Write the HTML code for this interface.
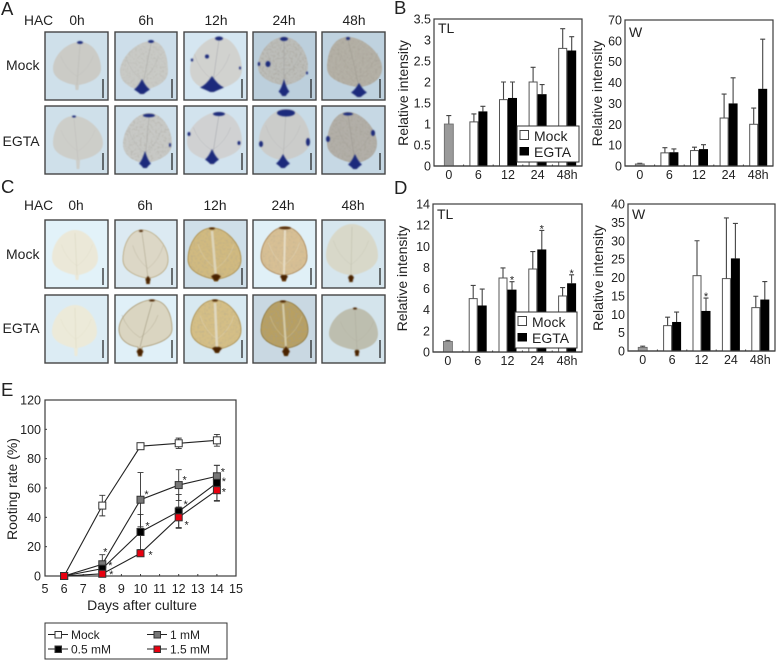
<!DOCTYPE html>
<html lang="en">
<head>
<meta charset="utf-8">
<title>Relative intensity and rooting rate figure</title>
<style>
html,body{margin:0;padding:0;background:#fff;width:777px;height:660px;overflow:hidden}
svg{display:block}
text{font-family:"Liberation Sans",Arial,sans-serif;fill:#222}
</style>
</head>
<body>
<svg id="fig" xmlns="http://www.w3.org/2000/svg" width="777" height="660" viewBox="0 0 777 660">
  <defs>
    <filter id="soft" x="-20%" y="-20%" width="140%" height="140%"><feGaussianBlur stdDeviation="0.6"/></filter>
    <filter id="stainblur" x="-60%" y="-60%" width="220%" height="220%"><feGaussianBlur stdDeviation="0.8"/></filter>
    <filter id="mottle" x="0" y="0" width="100%" height="100%">
      <feTurbulence type="fractalNoise" baseFrequency="0.45" numOctaves="2" seed="4" result="n"/>
      <feColorMatrix in="n" type="matrix" values="0 0 0 0 0.35  0 0 0 0 0.33  0 0 0 0 0.28  0 0 0 2.6 -1.15" result="c"/>
      <feComposite in="c" in2="SourceAlpha" operator="in"/>
    </filter>
  </defs>
  <g id="photos"></g>
  <g id="charts"></g>
  <g font-size="18.5">
    <text x="1" y="15">A</text>
    <text x="394" y="14">B</text>
    <text x="1" y="193">C</text>
    <text x="394" y="194">D</text>
    <text x="1" y="396">E</text>
  </g>
</svg>
<script>
// ---------- chart data ----------
const timeCategories = ['0', '6', '12', '24', '48h'];

const bTLTicks = [0, 0.5, 1, 1.5, 2, 2.5, 3, 3.5];
const bTLBaseline = [1, 1.2];
const bTLMock = [1.05, 1.58, 2.0, 2.8];
const bTLMockTop = [1.24, 2.0, 2.35, 3.27];
const bTLEgta = [1.3, 1.62, 1.71, 2.75];
const bTLEgtaTop = [1.42, 2.0, 1.94, 3.08];
const bTLStars = [];

const bWTicks = [0, 10, 20, 30, 40, 50, 60, 70];
const bWBaseline = [1, 1.3];
const bWMock = [6.3, 7.4, 23, 20];
const bWMockTop = [8.8, 9, 34.5, 27.8];
const bWEgta = [6.6, 8.1, 30, 37];
const bWEgtaTop = [8.2, 10.2, 42.3, 60.8];
const bWStars = [];

const dTLTicks = [0, 2, 4, 6, 8, 10, 12, 14];
const dTLBaseline = [1, 1.1];
const dTLMock = [5.05, 7, 7.85, 5.3];
const dTLMockTop = [6.3, 7.95, 9.5, 6.1];
const dTLEgta = [4.4, 5.9, 9.7, 6.5];
const dTLEgtaTop = [5.95, 6.65, 11.5, 7.3];
const dTLStars = [1, 2, 3];

const dWTicks = [0, 5, 10, 15, 20, 25, 30, 35, 40];
const dWBaseline = [1, 1.3];
const dWMock = [6.9, 20.5, 19.7, 11.8];
const dWMockTop = [9.2, 30, 36.2, 14.9];
const dWEgta = [7.9, 10.9, 25.2, 14];
const dWEgtaTop = [10.6, 14.4, 34.7, 18.9];
const dWStars = [1];

const rootDays = [6, 8, 10, 12, 14];
const rootXTicks = [5, 6, 7, 8, 9, 10, 11, 12, 13, 14, 15];
const rootYTicks = [0, 20, 40, 60, 80, 100, 120];
const rootMock = [0, 48, 88.5, 90.5, 92.5];
const rootMockErr = [0, 7, 1.5, 3.5, 4];
const root1mM = [0, 8, 52, 62, 68];
const root1mMErr = [0, 6.5, 18.5, 10.5, 7.5];
const root05mM = [0, 5, 30, 44, 63.5];
const root05mMErr = [0, 3, 12, 11.5, 12];
const root15mM = [0, 1.5, 15.5, 40, 58.5];
const root15mMErr = [0, 1, 0, 7, 7.5];

// ---------- helpers ----------
const NS = 'http://www.w3.org/2000/svg';
const INK = '#3c3c3c';
function mk(parent, tag, attrs, txt) {
  const el = document.createElementNS(NS, tag);
  for (const k in attrs) el.setAttribute(k, attrs[k]);
  if (txt !== undefined) el.textContent = txt;
  parent.appendChild(el);
  return el;
}

// ---------- bar charts ----------
function barChart(o) {
  const root = document.getElementById('charts');
  const g = mk(root, 'g', {});
  
  
  const w = o.x1 - o.x0;
  const band = w / o.categories.length;
  const yMax = o.ticks[o.ticks.length - 1];
  const sy = v => o.y1 - (v / yMax) * (o.y1 - o.y0);
  const cx = i => o.x0 + band * (i + 0.5);
  const barW = 9;

  const frame = mk(g, 'rect', {x: o.x0, y: o.y0, width: w, height: o.y1 - o.y0, fill: '#fff', stroke: INK, 'stroke-width': 1.2});
  
  

  o.ticks.forEach(t => {
    const lb = mk(g, 'text', {x: o.x0 - 3, y: sy(t) + 4.5, 'text-anchor': 'end', 'font-size': 12.5}, String(t));
    
    
  });
  o.categories.forEach((c, i) => {
    const lb = mk(g, 'text', {x: cx(i), y: o.y1 + 13, 'text-anchor': 'middle', 'font-size': 12.5}, c);
    
    
    if (i > 0) {
      const tk = mk(g, 'line', {x1: o.x0 + band * i, x2: o.x0 + band * i, y1: o.y1, y2: o.y1 - 1.5, stroke: INK, 'stroke-width': 1});
      
      
    }
  });

  const yt = mk(g, 'text', {transform: 'translate(' + o.ylx + ',' + ((o.y0 + o.y1) / 2 + 0.5) + ') rotate(-90)', 'text-anchor': 'middle', 'font-size': 14}, 'Relative intensity');
  
  
  const tl = mk(g, 'text', {x: o.tx, y: o.ty, 'font-size': 14}, o.title);
  
  

  function err(x, from, to) {
    const e = mk(g, 'path', {d: 'M' + x + ' ' + sy(from) + 'V' + sy(to) + 'M' + (x - 2.5) + ' ' + sy(to) + 'H' + (x + 2.5), fill: 'none', stroke: '#444', 'stroke-width': 1.1});
    
    
  }
  err(cx(0), o.baseline[0], o.baseline[1]);
  const b0 = mk(g, 'rect', {x: cx(0) - barW / 2, y: sy(o.baseline[0]), width: barW, height: o.y1 - sy(o.baseline[0]), fill: '#9a9a9a', stroke: '#666', 'stroke-width': 0.8});
  
  

  o.mock.forEach((v, i) => {
    const c = cx(i + 1);
    err(c - barW / 2, v, o.mockTop[i]);
    const b = mk(g, 'rect', {x: c - barW + 0.5, y: sy(v), width: barW - 1, height: o.y1 - sy(v), fill: '#fff', stroke: '#555', 'stroke-width': 1});
    
    
  });
  o.egta.forEach((v, i) => {
    const c = cx(i + 1);
    err(c + barW / 2, v, o.egtaTop[i]);
    const b = mk(g, 'rect', {x: c, y: sy(v), width: barW, height: o.y1 - sy(v), fill: '#000'});
    
    
  });
  o.stars.forEach(i => {
    const c = cx(i + 1);
    const s = mk(g, 'text', {x: c + barW / 2, y: sy(o.egtaTop[i]) + 2, 'text-anchor': 'middle', 'font-size': 11}, '*');
    
    
  });
  const base = mk(g, 'line', {x1: o.x0, x2: o.x1, y1: o.y1, y2: o.y1, stroke: INK, 'stroke-width': 1.2});
  
  

  if (o.legend) {
    const lg = mk(g, 'g', {transform: 'translate(' + o.legend[0] + ',' + o.legend[1] + ')'});
    
    
    const lr = mk(lg, 'rect', {x: 0, y: 0, width: 62, height: 36, fill: '#fff', stroke: '#333', 'stroke-width': 1});
    
    
    const s1 = mk(lg, 'rect', {x: 3, y: 4.5, width: 8.5, height: 9, fill: '#fff', stroke: '#444', 'stroke-width': 1});
    
    
    const t1 = mk(lg, 'text', {x: 17, y: 15, 'font-size': 14}, 'Mock');
    
    
    const s2 = mk(lg, 'rect', {x: 2.5, y: 21, width: 9.5, height: 8.5, fill: '#000'});
    
    
    const t2 = mk(lg, 'text', {x: 17, y: 31, 'font-size': 14}, 'EGTA');
    
    
  }
}

barChart({name: 'b-tl', title: 'TL', x0: 434, x1: 582, y0: 19, y1: 166, ylx: 408, tx: 438, ty: 33, categories: timeCategories, ticks: bTLTicks, baseline: bTLBaseline, mock: bTLMock, mockTop: bTLMockTop, egta: bTLEgta, egtaTop: bTLEgtaTop, stars: bTLStars, legend: [517, 126]});
barChart({name: 'b-w', title: 'W', x0: 625, x1: 773, y0: 20, y1: 166, ylx: 602, tx: 629, ty: 37, categories: timeCategories, ticks: bWTicks, baseline: bWBaseline, mock: bWMock, mockTop: bWMockTop, egta: bWEgta, egtaTop: bWEgtaTop, stars: bWStars});
barChart({name: 'd-tl', title: 'TL', x0: 433, x1: 582, y0: 204, y1: 352, ylx: 407, tx: 437, ty: 219, categories: timeCategories, ticks: dTLTicks, baseline: dTLBaseline, mock: dTLMock, mockTop: dTLMockTop, egta: dTLEgta, egtaTop: dTLEgtaTop, stars: dTLStars, legend: [515, 312]});
barChart({name: 'd-w', title: 'W', x0: 628, x1: 775, y0: 204, y1: 351, ylx: 603, tx: 632, ty: 219, categories: timeCategories, ticks: dWTicks, baseline: dWBaseline, mock: dWMock, mockTop: dWMockTop, egta: dWEgta, egtaTop: dWEgtaTop, stars: dWStars});

// ---------- line chart (panel E) ----------
(function () {
  const root = document.getElementById('charts');
  const g = mk(root, 'g', {});
  
  
  const X0 = 45, X1 = 236, Y0 = 400, Y1 = 576;
  const sx = d => X0 + (d - 5) / 10 * (X1 - X0);
  const sy = v => Y1 - v / 120 * (Y1 - Y0);
  const frame = mk(g, 'rect', {x: X0, y: Y0, width: X1 - X0, height: Y1 - Y0, fill: '#fff', stroke: INK, 'stroke-width': 1.2});
  
  
  rootYTicks.forEach(t => {
    const lb = mk(g, 'text', {x: X0 - 4, y: sy(t) + 4.5, 'text-anchor': 'end', 'font-size': 12.5}, String(t));
    
    
    const tk = mk(g, 'line', {x1: X0, x2: X0 + 2, y1: sy(t), y2: sy(t), stroke: INK, 'stroke-width': 1});
    
    
  });
  rootXTicks.forEach(t => {
    const lb = mk(g, 'text', {x: sx(t), y: 593, 'text-anchor': 'middle', 'font-size': 12.5}, String(t));
    
    
    const tk = mk(g, 'line', {x1: sx(t), x2: sx(t), y1: Y1, y2: Y1 - 2, stroke: INK, 'stroke-width': 1});
    
    
  });
  const xt = mk(g, 'text', {x: 142, y: 610, 'text-anchor': 'middle', 'font-size': 14}, 'Days after culture');
  
  
  const yt = mk(g, 'text', {transform: 'translate(17,489) rotate(-90)', 'text-anchor': 'middle', 'font-size': 14}, 'Rooting rate (%)');
  
  

  const series = [
    {id: 'mock', vals: rootMock, errs: rootMockErr, fill: '#fff', star: null},
    {id: '1mm', vals: root1mM, errs: root1mMErr, fill: '#777', star: [null, [3, -15], [6, -8], [6, -8], [6, -7]]},
    {id: '0-5mm', vals: root05mM, errs: root05mMErr, fill: '#000', star: [null, [8, -6], [7, -9], [7, -10], [7, -4]]},
    {id: '1-5mm', vals: root15mM, errs: root15mMErr, fill: '#e8000f', star: [null, [9, -2], [10, -1], [8, 5], [7, -1]]}
  ];
  series.forEach(s => {
    const line = mk(g, 'polyline', {points: rootDays.map((d, i) => sx(d) + ',' + sy(s.vals[i])).join(' '), fill: 'none', stroke: '#222', 'stroke-width': 1.1});
    
    
  });
  series.forEach(s => {
    s.vals.forEach((v, i) => {
      const e = s.errs[i];
      if (!e) return;
      const x = sx(rootDays[i]);
      const p = mk(g, 'path', {d: 'M' + x + ' ' + sy(v + e) + 'V' + sy(v - e) + 'M' + (x - 3) + ' ' + sy(v + e) + 'H' + (x + 3) + 'M' + (x - 3) + ' ' + sy(v - e) + 'H' + (x + 3), fill: 'none', stroke: '#333', 'stroke-width': 0.9});
      
      
    });
  });
  series.forEach(s => {
    s.vals.forEach((v, i) => {
      const x = sx(rootDays[i]), y = sy(v);
      const m = mk(g, 'rect', {x: x - 3.5, y: y - 3.5, width: 7, height: 7, fill: s.fill, stroke: '#333', 'stroke-width': 1});
      
      
      if (s.star && s.star[i]) {
        const st = mk(g, 'text', {x: x + s.star[i][0], y: y + s.star[i][1] + 6.3, 'text-anchor': 'middle', 'font-size': 11}, '*');
        
        
      }
    });
  });

  const lg = mk(g, 'g', {});
  
  
  const lr = mk(lg, 'rect', {x: 45, y: 623, width: 182, height: 36, fill: '#fff', stroke: '#333', 'stroke-width': 1});
  
  
  const entries = [
    ['Mock', 48, 634.5, '#fff', 'mock'],
    ['0.5 mM', 48, 649, '#000', '0-5mm'],
    ['1 mM', 147, 634.5, '#777', '1mm'],
    ['1.5 mM', 147, 649, '#e8000f', '1-5mm']
  ];
  entries.forEach(en => {
    const ln = mk(lg, 'line', {x1: en[1], x2: en[1] + 20, y1: en[2], y2: en[2], stroke: '#222', 'stroke-width': 1});
    
    
    const mr = mk(lg, 'rect', {x: en[1] + 7, y: en[2] - 3, width: 6.5, height: 6.5, fill: en[3], stroke: '#333', 'stroke-width': 1});
    
    
    const tx = mk(lg, 'text', {x: en[1] + 23, y: en[2] + 4.5, 'font-size': 12}, en[0]);
    
    
  });
})();

// ---------- leaf photo panels ----------
const BLUE = '#1b2a7c', BRN = '#4a2206';
const tileXs = [[45, 108], [115, 177], [184, 247], [253, 316], [322, 385]];
const leaves = [
  // panel A row 1
  {p:'a',r:0,c:0,y:[32,100],bar:[79,98],bg:'#cfe0ea',leaf:'#cbcbc6',L:53,R:101,T:42,B:85,P:90,C:80,bx:77,mot:0,veinC:'#bdbdb8',st:[[80,42.5,3,1.5]]},
  {p:'a',r:0,c:1,y:[32,100],bar:[79,98],bg:'#cddeea',leaf:'#c9cac6',L:120,R:168,T:41,B:90,P:94,C:151,bx:142,mot:.25,veinC:'#b2b2ae',fan:[142,79,94,8],st:[[151,41.5,3,1.5]]},
  {p:'a',r:0,c:2,y:[32,100],bar:[79,98],bg:'#d5e6f1',leaf:'#d1d2cf',L:190,R:242,T:37,B:90,P:92,C:219,bx:212,mot:0,veinC:'#b0b2b6',fan:[212,76,92,12],st:[[219,38.5,4,2],[207,56.5,2,2],[192,60,1.2,1.5],[240,68,1,1.5]]},
  {p:'a',r:0,c:3,y:[32,100],bar:[79,98],bg:'#bccfdc',leaf:'#bcbdb9',L:258,R:308,T:37,B:85,P:96,C:284,bx:284,mot:.5,veinC:'#a8a8a6',fan:[284,79,96,5.5],st:[[284,39,4,2],[268,64,2.5,3],[259,64,1.2,2],[307,73,1,1.5]]},
  {p:'a',r:0,c:4,y:[32,100],bar:[79,98],bg:'#bfd2df',leaf:'#b4b0a6',L:327,R:382,T:37,B:87,P:97,C:348,bx:359,mot:.5,veinC:'#a4a196',fan:[359,83,97,8],st:[[348,38.5,2,1.5]]},
  // panel A row 2
  {p:'a',r:1,c:0,y:[106,174],bar:[153,170],bg:'#cfe0ea',leaf:'#cdcec9',L:53,R:103,T:116,B:160,P:169,C:74,bx:78,mot:0,veinC:'#c1c1bd',st:[[74,116.5,2,1]]},
  {p:'a',r:1,c:1,y:[106,174],bar:[153,170],bg:'#d0e1ec',leaf:'#c8c9c6',L:123,R:172,T:113,B:163,P:168,C:149,bx:145,mot:.35,veinC:'#b0b0ad',fan:[145,151,168,6],st:[[149,115.5,6,1.8],[170,145,1,2]]},
  {p:'a',r:1,c:2,y:[106,174],bar:[153,170],bg:'#d2e3ee',leaf:'#d0d1d2',L:187,R:242,T:112,B:160,P:165,C:219,bx:212,mot:0,veinC:'#adafb5',fan:[212,149,164,7],st:[[219,114,6,2],[189,134,1.5,2],[239,143,1.5,2]]},
  {p:'a',r:1,c:3,y:[106,174],bar:[153,170],bg:'#c8dbe7',leaf:'#cbccca',L:259,R:310,T:109,B:160,P:168,C:286,bx:283,mot:0,veinC:'#b7b7b7',fan:[283,154,168,7],st:[[286,113,9,3.5],[261,144,2,3],[308,142,2,4]]},
  {p:'a',r:1,c:4,y:[106,174],bar:[153,170],bg:'#c6d8e4',leaf:'#b2afa8',L:327,R:377,T:112,B:163,P:169,C:348,bx:355,mot:.5,veinC:'#a09c95',fan:[355,154,169,7],st:[[348,114,5,1.5],[328,139,2,3],[373,133,2,3]]},
  // panel C row 1
  {p:'c',r:0,c:0,y:[220,288],bar:[268,285],bg:'#e2f2f9',leaf:'#ebe8d8',L:52,R:98,T:230,B:275,P:280,C:75,bx:77,mot:0,veinC:'#dcd8c4',st:[]},
  {p:'c',r:0,c:1,y:[220,288],bar:[268,285],bg:'#dceaf2',leaf:'#dcd7c6',L:123,R:168,T:230,B:278,P:283,C:142,bx:148,mot:0,veinC:'#b5ae96',fan:[148,276,284,2.5],st:[[141,231,2,1]],rim:'#b8a678'},
  {p:'c',r:0,c:2,y:[220,288],bar:[268,285],bg:'#cfdfe9',leaf:'#d1ba80',L:188,R:241,T:228,B:279,P:281,C:212,bx:216,mot:.3,veinC:'#ddd4b8',rib:2.5,fan:[216,274,281,5],st:[[212,228.5,3,1]],rim:'#a8883e'},
  {p:'c',r:0,c:3,y:[220,288],bar:[268,285],bg:'#e0f0f7',leaf:'#d8c094',L:261,R:307,T:227,B:275,P:281,C:285,bx:284,mot:.25,veinC:'#e6dcc4',rib:2,fan:[284,275,281,4],st:[[285,228,6,1.2]],rim:'#a87c44'},
  {p:'c',r:0,c:4,y:[220,288],bar:[268,285],bg:'#d6e6ee',leaf:'#d8d8c9',L:326,R:378,T:224,B:275,P:282,C:352,bx:351,mot:0,veinC:'#c3c3b1',fan:[351,275,282,3],st:[]},
  // panel C row 2
  {p:'c',r:1,c:0,y:[295,363],bar:[340,358],bg:'#dcecf4',leaf:'#ecead9',L:52,R:97,T:305,B:348,P:356,C:75,bx:76,mot:0,veinC:'#dfdcc6',st:[]},
  {p:'c',r:1,c:1,y:[295,363],bar:[340,358],bg:'#e0f0f8',leaf:'#dad5c1',L:119,R:172,T:300,B:347,P:356,C:152,bx:140,mot:0,veinC:'#a8a086',fan:[140,348,356,3.5],st:[[152,300.5,3,1]],rim:'#a89468'},
  {p:'c',r:1,c:2,y:[295,363],bar:[340,358],bg:'#d8e9f1',leaf:'#d5bf86',L:191,R:241,T:300,B:349,P:352,C:215,bx:217,mot:.3,veinC:'#e0d8bf',rib:2.5,fan:[217,347,353,5],st:[[215,300.5,3,1]],rim:'#a8883e'},
  {p:'c',r:1,c:3,y:[295,363],bar:[340,358],bg:'#c9d8e2',leaf:'#b8a062',L:261,R:308,T:301,B:348,P:355,C:283,bx:286,mot:.5,veinC:'#d4cba8',rib:2,fan:[286,346,356,4],st:[[283,301.5,3,1]],rim:'#8a7030'},
  {p:'c',r:1,c:4,y:[295,363],bar:[340,358],bg:'#d4e4ec',leaf:'#bdbeaf',L:329,R:378,T:308,B:350,P:355,C:355,bx:357,mot:0,veinC:'#b0b0a1',fan:[357,350,356,2.5],st:[[355,308.5,2,1]]}
];
const stainColor = {a: BLUE, c: BRN};
const rowLabels = ['Mock', 'EGTA'];
const timeLabels = ['0h', '6h', '12h', '24h', '48h'];
const labelCentersA = [77, 146, 216, 284, 354];
const labelCentersC = [76, 145, 215, 283, 353];

(function () {
  const root = document.getElementById('photos');
  leaves.forEach(t => {
    const x0 = tileXs[t.c][0], x1 = tileXs[t.c][1];
    const g = mk(root, 'g', {});
    
    
    const bg = mk(g, 'rect', {x: x0, y: t.y[0], width: x1 - x0, height: t.y[1] - t.y[0], fill: t.bg, stroke: '#444', 'stroke-width': 1.4});
    
    
    const w = (t.R - t.L) / 2, h = t.B - t.T, C = t.C, bx = t.bx;
    const pw = 2;
    const my = t.T + h * .62;
    const d = 'M' + C + ' ' + t.T +
      'C' + (C + w * .55) + ' ' + t.T + ' ' + t.R + ' ' + (t.T + h * .32) + ' ' + t.R + ' ' + my +
      'C' + t.R + ' ' + (t.T + h * .88) + ' ' + (bx + w * .35) + ' ' + (t.B - 1) + ' ' + (bx + pw) + ' ' + t.B +
      'L' + (bx + pw * .7) + ' ' + t.P + 'L' + (bx - pw * .7) + ' ' + t.P + 'L' + (bx - pw) + ' ' + t.B +
      'C' + (bx - w * .35) + ' ' + (t.B - 1) + ' ' + t.L + ' ' + (t.T + h * .88) + ' ' + t.L + ' ' + my +
      'C' + t.L + ' ' + (t.T + h * .32) + ' ' + (C - w * .55) + ' ' + t.T + ' ' + C + ' ' + t.T + 'Z';
    const lg = mk(g, 'g', {filter: 'url(#soft)'});
    
    
    const blade = mk(lg, 'path', {d: d, fill: t.leaf, stroke: t.rim || 'none', 'stroke-width': t.rim ? .8 : 0});
    
    
    if (t.mot) {
      const mot = mk(lg, 'path', {d: d, fill: '#000', filter: 'url(#mottle)', opacity: t.mot});
      
      
    }
    const rib = mk(lg, 'path', {d: 'M' + C + ' ' + (t.T + 3) + 'Q' + ((C + bx) / 2) + ' ' + (t.T + h * .5) + ' ' + bx + ' ' + t.B, fill: 'none', stroke: t.veinC, 'stroke-width': t.rib || .7});
    
    
    const veins =
      'M' + bx + ' ' + (t.T + h * .8) + 'Q' + (bx + w * .5) + ' ' + (t.T + h * .62) + ' ' + (bx + w * .68) + ' ' + (t.T + h * .32) +
      'M' + bx + ' ' + (t.T + h * .8) + 'Q' + (bx - w * .5) + ' ' + (t.T + h * .62) + ' ' + (bx - w * .68) + ' ' + (t.T + h * .32);
    const vn = mk(lg, 'path', {d: veins, fill: 'none', stroke: t.veinC, 'stroke-width': .5, opacity: .75});
    
    
    if (t.fan) {
      const f = t.fan, fx = f[0], yt = f[1], yb = f[2], hw = f[3];
      const fd = 'M' + fx + ' ' + yt +
        'Q' + (fx + hw * .5) + ' ' + (yb - 7) + ' ' + (fx + hw) + ' ' + (yb - 4.5) +
        'Q' + (fx + hw * .5) + ' ' + (yb - 2) + ' ' + (fx + 1.8) + ' ' + yb +
        'L' + (fx - 1.8) + ' ' + yb +
        'Q' + (fx - hw * .5) + ' ' + (yb - 2) + ' ' + (fx - hw) + ' ' + (yb - 4.5) +
        'Q' + (fx - hw * .5) + ' ' + (yb - 7) + ' ' + fx + ' ' + yt + 'Z';
      const fan = mk(g, 'path', {d: fd, fill: stainColor[t.p], filter: 'url(#stainblur)'});
      
      
    }
    t.st.forEach(s => {
      const e = mk(g, 'ellipse', {cx: s[0], cy: s[1], rx: s[2], ry: s[3], fill: stainColor[t.p], filter: 'url(#stainblur)'});
      
      
    });
    const sb = mk(g, 'line', {x1: x1 - 5, x2: x1 - 5, y1: t.bar[0], y2: t.bar[1], stroke: '#1a1a1a', 'stroke-width': 1.2});
    
    
  });

  [[25, labelCentersA, 70, 146], [210, labelCentersC, 259, 333]].forEach(cfg => {
    const hac = mk(root, 'text', {x: 24, y: cfg[0], 'font-size': 13.8}, 'HAC');
    
    
    timeLabels.forEach((tl, i) => {
      const el = mk(root, 'text', {x: cfg[1][i], y: cfg[0], 'text-anchor': 'middle', 'font-size': 13.8}, tl);
      
      
    });
    const m = mk(root, 'text', {x: 6, y: cfg[2], 'font-size': 14}, rowLabels[0]);
    
    
    const e = mk(root, 'text', {x: 2.5, y: cfg[3], 'font-size': 14}, rowLabels[1]);
    
    
  });
})();
</script>
</body>
</html>
